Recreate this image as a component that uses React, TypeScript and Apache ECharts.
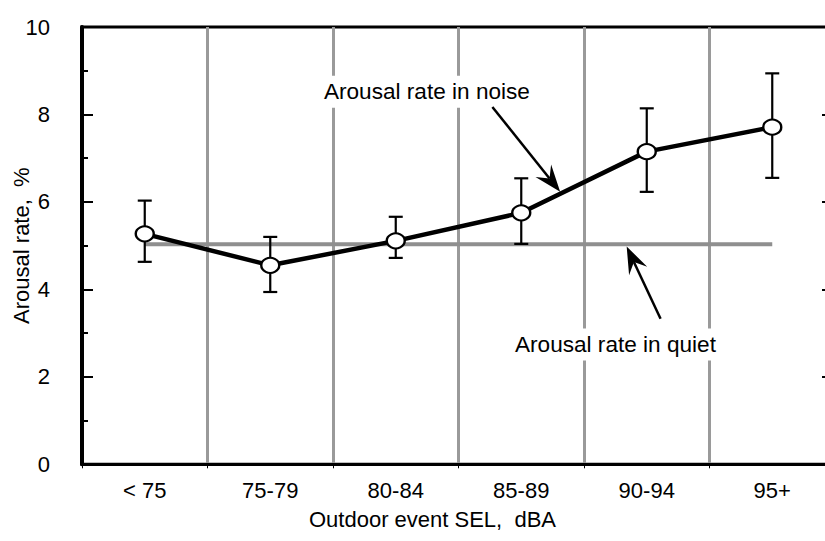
import React, { useEffect, useRef } from "react";
import * as echarts from "echarts";

const categories = ["< 75", "75-79", "80-84", "85-89", "90-94", "95+"];
const noiseRate = [5.27, 4.55, 5.11, 5.75, 7.15, 7.71];
const errLow = [4.63, 3.94, 4.72, 5.04, 6.23, 6.55];
const errHigh = [6.03, 5.2, 5.66, 6.54, 8.14, 8.94];
const quietRate = [5.03, 5.03, 5.03, 5.03, 5.03, 5.03];
const yTicks = [0, 2, 4, 6, 8, 10];

// annotation anchors in data space: [category position, value]
const noiseLabelText = "Arousal rate in noise";
const noiseLabelAt = [1.428, 8.52];
const noiseArrowFrom = [2.77, 8.17];
const noiseArrowTo = [3.31, 6.23];
const quietLabelText = "Arousal rate in quiet";
const quietLabelAt = [2.95, 2.74];
const quietArrowFrom = [4.11, 3.33];
const quietArrowTo = [3.84, 4.98];

const FONT = "'Liberation Sans', Arial, Helvetica, sans-serif";

export default function App() {
  const ref = useRef<HTMLDivElement>(null);
  useEffect(() => {
    if (!ref.current) return;
    const chart = echarts.init(ref.current, null, { renderer: "svg" });
    const option: any = {
      animation: false,
      backgroundColor: "#fff",
      grid: {
        left: 82,
        top: 27,
        right: -10,
        bottom: 76.7,
        containLabel: false,
        outerBoundsMode: "none",
        show: true,
        borderColor: "#000",
        borderWidth: 3,
        backgroundColor: "transparent",
      },
      xAxis: {
        type: "category",
        data: categories,
        boundaryGap: true,
        name: "Outdoor event SEL,  dBA",
        nameLocation: "middle",
        nameGap: 44,
        nameMoveOverlap: false,
        nameTextStyle: { color: "#000", fontSize: 22, fontFamily: FONT, padding: [0, 52, 0, 0] },
        axisLine: { show: true, lineStyle: { color: "#000", width: 3 } },
        axisTick: { show: true, length: 4, lineStyle: { color: "#000", width: 1 } },
        axisLabel: { color: "#000", fontSize: 22, fontFamily: FONT, margin: 15 },
        splitLine: { show: true, lineStyle: { color: "#9a9a9a", width: 3 } },
      },
      yAxis: [
        {
          type: "value",
          min: 0,
          max: 10,
          interval: 2,
          name: "Arousal rate,  %",
          nameLocation: "middle",
          nameGap: 50,
          nameMoveOverlap: false,
          nameTextStyle: { color: "#000", fontSize: 22, fontFamily: FONT },
          axisLine: { show: true, lineStyle: { color: "#000", width: 4 } },
          axisTick: { show: true, inside: true, length: 11, lineStyle: { color: "#000", width: 2 } },
          minorTick: { show: true, splitNumber: 2, length: 6, lineStyle: { color: "#000", width: 2 } },
          axisLabel: {
            color: "#000",
            fontSize: 22,
            fontFamily: FONT,
            margin: 32,
            formatter: (v: number) => (yTicks.includes(v) ? String(v) : ""),
          },
          splitLine: { show: false },
        },
        {
          type: "value",
          position: "right",
          min: 0,
          max: 10,
          interval: 2,
          axisLine: { show: true, lineStyle: { color: "#000", width: 3 } },
          axisTick: { show: true, inside: true, length: 13, lineStyle: { color: "#000", width: 2 } },
          axisLabel: { show: false },
          splitLine: { show: false },
        },
      ],
      series: [
        {
          type: "line",
          name: "quiet",
          data: quietRate,
          symbol: "none",
          lineStyle: { color: "#8f8f8f", width: 4 },
          z: 2,
          silent: true,
        },
        {
          type: "custom",
          name: "err",
          data: categories.map((_, i) => [i, errLow[i], errHigh[i]]),
          encode: { x: 0, y: [1, 2] },
          z: 3,
          renderItem: (params: any, api: any) => {
            const lo = api.coord([api.value(0), api.value(1)]);
            const hi = api.coord([api.value(0), api.value(2)]);
            const cw = 7;
            const st = { stroke: "#000", lineWidth: 2.2 };
            return {
              type: "group",
              children: [
                { type: "line", shape: { x1: lo[0], y1: lo[1], x2: hi[0], y2: hi[1] }, style: st },
                { type: "line", shape: { x1: lo[0] - cw, y1: lo[1], x2: lo[0] + cw, y2: lo[1] }, style: st },
                { type: "line", shape: { x1: hi[0] - cw, y1: hi[1], x2: hi[0] + cw, y2: hi[1] }, style: st },
              ],
            };
          },
        },
        {
          type: "line",
          name: "noise",
          data: noiseRate,
          symbol: "circle",
          symbolSize: [18, 15],
          itemStyle: { color: "#fff", borderColor: "#000", borderWidth: 2.2 },
          lineStyle: { color: "#000", width: 4.5 },
          z: 4,
        },
      ],
    };
    chart.setOption(option);

    const toPx = (p: number[]) => {
      const i0 = Math.max(0, Math.min(categories.length - 2, Math.floor(p[0])));
      const a = chart.convertToPixel({ gridIndex: 0 }, [i0, p[1]]) as number[];
      const b = chart.convertToPixel({ gridIndex: 0 }, [i0 + 1, p[1]]) as number[];
      const t = p[0] - i0;
      return [a[0] + (b[0] - a[0]) * t, a[1]];
    };

    const arrow = (from: number[], to: number[]) => {
      const s = toPx(from);
      const e = toPx(to);
      const dx = e[0] - s[0];
      const dy = e[1] - s[1];
      const len = Math.sqrt(dx * dx + dy * dy);
      const ux = dx / len;
      const uy = dy / len;
      const nx = -uy;
      const ny = ux;
      const hl = 27;
      const hw = 10;
      const notch = 17;
      const bx = e[0] - ux * hl;
      const by = e[1] - uy * hl;
      const mx = e[0] - ux * notch;
      const my = e[1] - uy * notch;
      return [
        {
          type: "line",
          shape: { x1: s[0], y1: s[1], x2: mx, y2: my },
          style: { stroke: "#000", lineWidth: 2.5 },
          z: 10,
        },
        {
          type: "polygon",
          shape: {
            points: [
              [e[0], e[1]],
              [bx + nx * hw, by + ny * hw],
              [mx, my],
              [bx - nx * hw, by - ny * hw],
            ],
          },
          style: { fill: "#000" },
          z: 10,
        },
      ];
    };

    const label = (text: string, at: number[], w: number) => {
      const p = toPx(at);
      return [
        {
          type: "rect",
          shape: { x: p[0] - 6, y: p[1] - 16, width: w + 12, height: 32 },
          style: { fill: "#fff" },
          z: 9,
        },
        {
          type: "text",
          x: p[0],
          y: p[1],
          style: {
            text,
            fill: "#000",
            font: `22.6px ${FONT}`,
            textAlign: "left",
            textVerticalAlign: "middle",
          },
          z: 11,
        },
      ];
    };

    chart.setOption({
      graphic: [
        ...label(noiseLabelText, noiseLabelAt, 206),
        ...arrow(noiseArrowFrom, noiseArrowTo),
        ...label(quietLabelText, quietLabelAt, 203),
        ...arrow(quietArrowFrom, quietArrowTo),
      ],
    });

    return () => chart.dispose();
  }, []);
  return (
    <div
      ref={ref}
      style={{ position: "fixed", left: 0, top: 0, width: 825, height: 541, background: "#fff" }}
    />
  );
}
